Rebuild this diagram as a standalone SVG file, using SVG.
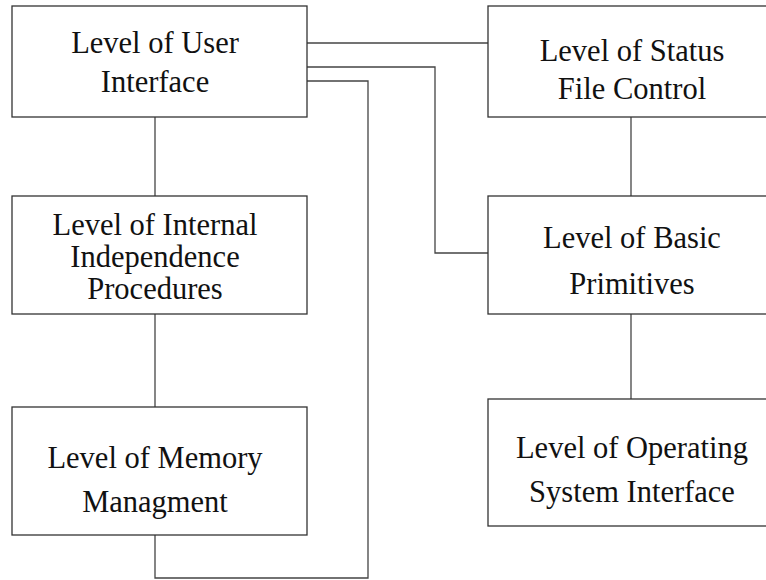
<svg xmlns="http://www.w3.org/2000/svg" width="766" height="580" viewBox="0 0 766 580">
<style>
.box{fill:#fff;stroke:#333;stroke-width:1.3}
.conn{fill:none;stroke:#444;stroke-width:1.3}
.t{font-size:30.5px;fill:#111;text-anchor:middle}
</style>
<rect width="766" height="580" fill="#fff"/>
<g id="connectors">
<path class="conn" d="M155,117V196"/>
<path class="conn" d="M155,314V407"/>
<path class="conn" d="M307,43H488"/>
<path class="conn" d="M307,67H435V253H488"/>
<path class="conn" d="M307,81H368V578H155V535"/>
<path class="conn" d="M631,117V196"/>
<path class="conn" d="M631,314V399"/>
</g>
<g font-family="'Liberation Serif', 'DejaVu Serif', 'Times New Roman', serif">
<g id="user-interface">
<rect class="box" x="12" y="6" width="295" height="111"/>
<text class="t" x="155" y="53">Level of User</text>
<text class="t" x="155" y="92">Interface</text>
</g>
<g id="internal-independence">
<rect class="box" x="12" y="196" width="295" height="118"/>
<text class="t" x="155" y="235">Level of Internal</text>
<text class="t" x="155" y="267">Independence</text>
<text class="t" x="155" y="299">Procedures</text>
</g>
<g id="memory-management">
<rect class="box" x="12" y="407" width="295" height="128"/>
<text class="t" x="155" y="468">Level of Memory</text>
<text class="t" x="155" y="512">Managment</text>
</g>
<g id="status-file-control">
<rect class="box" x="488" y="6" width="290" height="111"/>
<text class="t" x="632" y="61">Level of Status</text>
<text class="t" x="632" y="99">File Control</text>
</g>
<g id="basic-primitives">
<rect class="box" x="488" y="196" width="290" height="118"/>
<text class="t" x="632" y="248">Level of Basic</text>
<text class="t" x="632" y="294">Primitives</text>
</g>
<g id="os-interface">
<rect class="box" x="488" y="399" width="290" height="127"/>
<text class="t" x="632" y="458">Level of Operating</text>
<text class="t" x="632" y="502">System Interface</text>
</g>
</g>
</svg>
